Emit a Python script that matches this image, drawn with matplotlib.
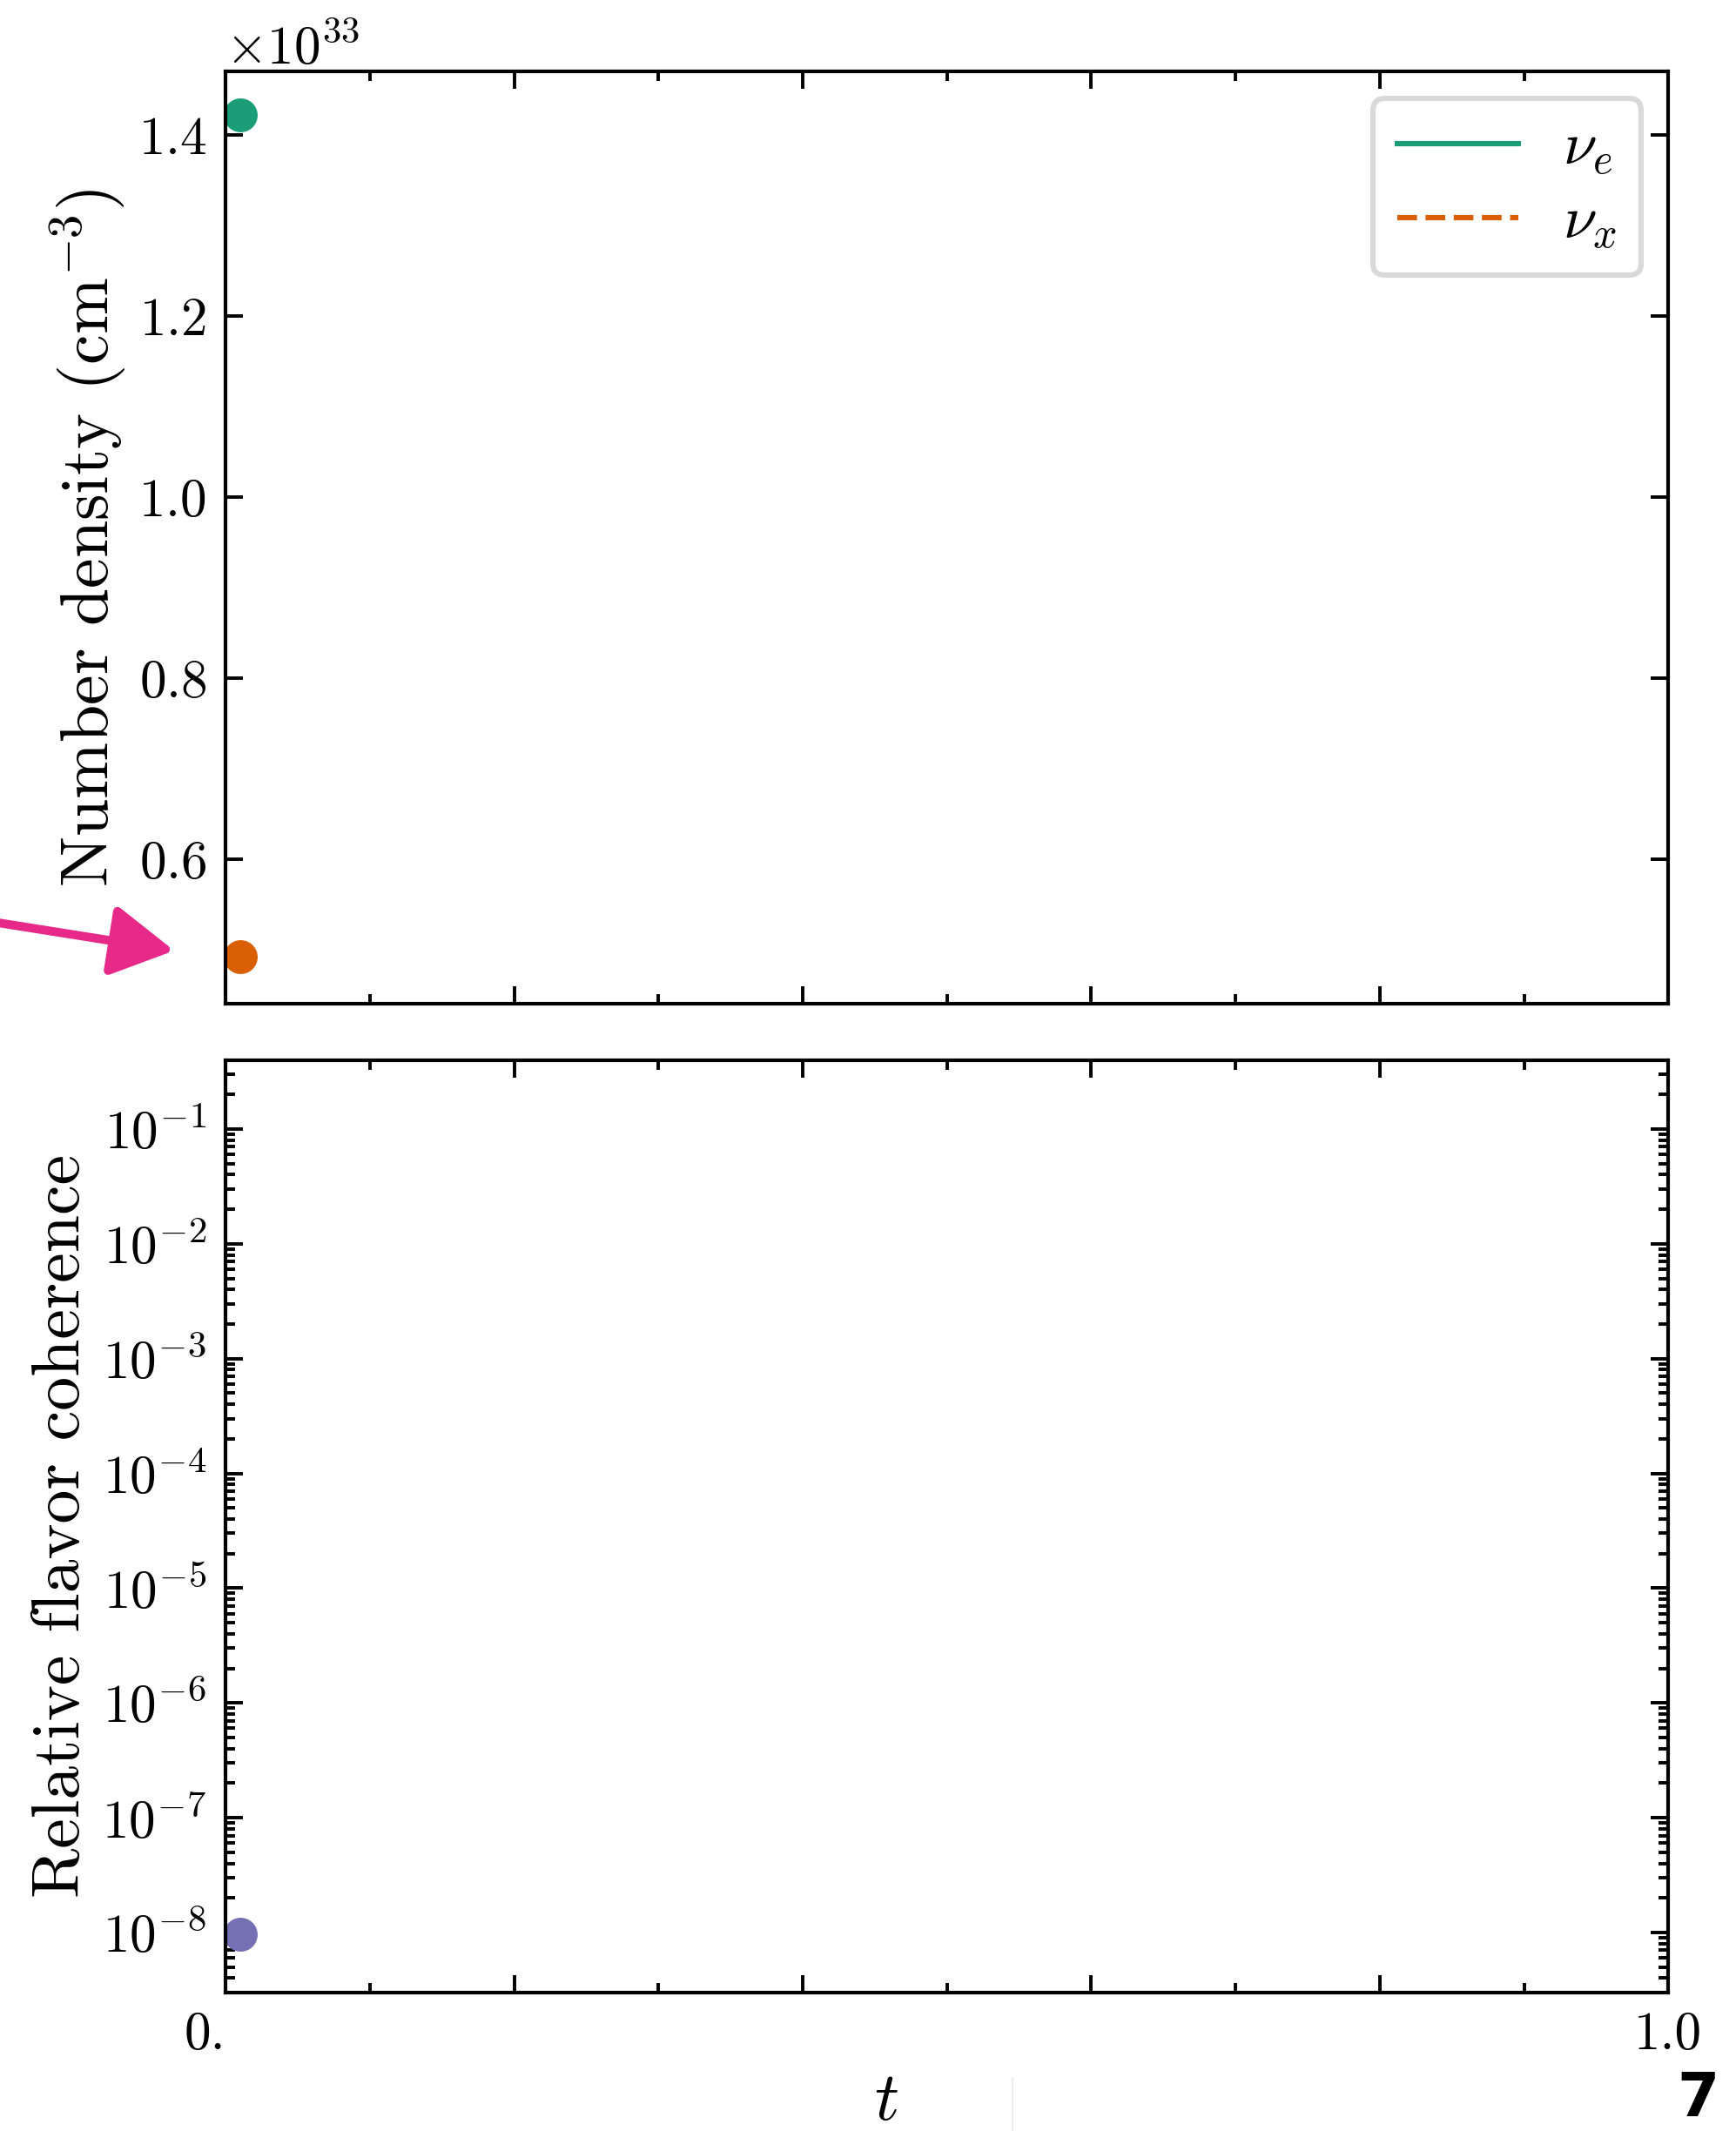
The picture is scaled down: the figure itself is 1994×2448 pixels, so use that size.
import numpy as np
import matplotlib
matplotlib.use("Agg")
import matplotlib.pyplot as plt
from matplotlib.lines import Line2D

plt.rcParams["font.family"] = "serif"
plt.rcParams["font.serif"] = ["cmr10"]
plt.rcParams["mathtext.fontset"] = "cm"
plt.rcParams["axes.formatter.use_mathtext"] = True
plt.rcParams["axes.unicode_minus"] = False

# Data (first frame only)
t = [0.01]
n_nue = [1.4225e33]
n_nux = [0.492e33]
coherence = [9.6e-9]

c_e = "#1b9e77"
c_x = "#d95f02"
c_c = "#7570b3"
c_arrow = "#e7298a"

fig = plt.figure(figsize=(9.97, 12.24), dpi=200)
ax1 = fig.add_axes([0.13, 0.5292, 0.831, 0.4373])
ax2 = fig.add_axes([0.13, 0.065, 0.831, 0.4376], sharex=ax1)

# Top panel: number densities
ax1.plot(t, n_nue, color=c_e, ls="-", lw=2.2, label=r"$\nu_e$")
ax1.plot(t, n_nux, color=c_x, ls="--", lw=2.2, label=r"$\nu_x$")
ax1.plot(t, n_nue, "o", color=c_e, ms=13)
ax1.plot(t, n_nux, "o", color=c_x, ms=13)
ax1.set_ylim(0.441e33, 1.4705e33)
ax1.set_yticks([0.6e33, 0.8e33, 1.0e33, 1.2e33, 1.4e33])
ax1.set_ylabel(r"Number density (cm$^{-3}$)", fontsize=28)
leg = ax1.legend(loc="upper right", fontsize=25, handlelength=2.0, handletextpad=0.74,
                 borderpad=0.4, labelspacing=0.3, borderaxespad=0.45,
                 fancybox=True, framealpha=1)
leg.get_frame().set_edgecolor("#d9d9d9")
leg.get_frame().set_linewidth(2.2)

# Bottom panel: relative flavor coherence
ax2.plot(t, coherence, "o", color=c_c, ms=13)
ax2.set_yscale("log")
ax2.set_ylim(3.0e-9, 0.40)
ax2.set_yticks([10.0**k for k in range(-8, 0)])
ax2.yaxis.set_minor_locator(matplotlib.ticker.LogLocator(base=10, subs=np.arange(2, 10), numticks=50))
ax2.yaxis.set_minor_formatter(matplotlib.ticker.NullFormatter())
ax2.set_ylabel("Relative flavor coherence", fontsize=28)
ax2.set_xlabel(r"$t$", fontsize=28)
ax2.xaxis.set_label_coords(0.458, -0.086)

ax1.set_xlim(0, 1.0)
ax2.set_xticks([0, 0.2, 0.4, 0.6, 0.8, 1.0])
ax2.set_xticklabels(["0.", "", "", "", "", "1.0"])
ax2.xaxis.get_majorticklabels()[0].set_ha("right")
ax2.xaxis.set_minor_locator(matplotlib.ticker.MultipleLocator(0.1))
plt.setp(ax1.get_xticklabels(), visible=False)

for ax in (ax1, ax2):
    ax.tick_params(which="both", direction="in", top=True, right=True, labelsize=22, width=1.4)
    ax.tick_params(which="major", length=7.2, pad=8)
    ax.tick_params(which="minor", length=4)
    for s in ax.spines.values():
        s.set_linewidth(1.5)
ax1.yaxis.get_offset_text().set_fontsize(22)

# Pink arrow pointing at the nu_x marker
ax1.annotate("", xy=(0.1003, 0.5539), xycoords="figure fraction",
             xytext=(-0.005, 0.5675), textcoords="figure fraction",
             arrowprops=dict(arrowstyle="-|>,head_length=1.1,head_width=0.62",
                             color=c_arrow, lw=3.6, mutation_scale=20,
                             shrinkA=0, shrinkB=0, joinstyle="round"),
             annotation_clip=False)

fig.text(0.9905, 0.007, "7", fontsize=25, fontweight="bold", family="DejaVu Sans",
         ha="right", va="baseline")
fig.add_artist(Line2D([0.5834, 0.5834], [0.0, 0.025], transform=fig.transFigure,
                      color="#eeeeee", lw=0.8))

fig.savefig("out.png", dpi=200)
